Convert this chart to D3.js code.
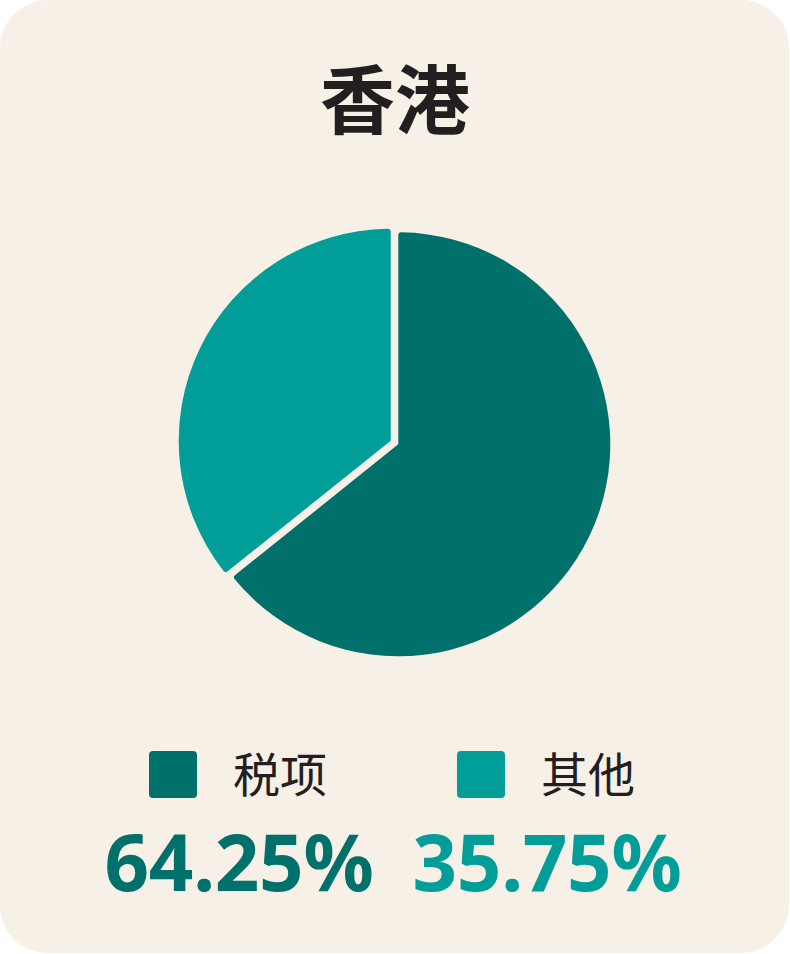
<!DOCTYPE html>
<html>
<head>
<meta charset="utf-8">
<script src="https://cdn.jsdelivr.net/npm/d3@7"></script>
<style>
html,body{margin:0;padding:0;background:#ffffff;}
svg{display:block;}
</style>
</head>
<body>
<svg id="chart" width="790" height="954"></svg>
<script>
const title = "香港";
const categories = ["税项", "其他"];
const values = [64.25, 35.75];
const valueLabels = ["64.25%", "35.75%"];
const colors = ["#00706a", "#009d99"];

const W = 790, H = 954;
const svg = d3.select("#chart");
const fontCJK = "'Noto Sans CJK SC', 'Noto Sans', sans-serif";

svg.append("rect")
  .attr("x", 0).attr("y", 0)
  .attr("width", 789).attr("height", 953)
  .attr("rx", 48).attr("ry", 48)
  .attr("fill", "#f6f0e7");

svg.append("text")
  .attr("x", 395).attr("y", 128)
  .attr("text-anchor", "middle")
  .attr("font-family", fontCJK)
  .attr("font-weight", 700)
  .attr("font-size", 75)
  .attr("fill", "#231f20")
  .text(title);

const cx = 394.5, cy = 442.5, r = 212, offset = 4.2;
const pie = d3.pie().sort(null).value(d => d).startAngle(0).endAngle(2 * Math.PI);
const arc = d3.arc().innerRadius(0).outerRadius(r).cornerRadius(3);
const arcs = pie(values);

const g = svg.append("g").attr("transform", `translate(${cx},${cy})`);
g.selectAll("path").data(arcs).join("path")
  .attr("d", arc)
  .attr("fill", (d, i) => colors[i])
  .attr("transform", d => {
    const a = (d.startAngle + d.endAngle) / 2;
    return `translate(${Math.sin(a) * offset},${-Math.cos(a) * offset})`;
  });

// legend columns
const colX = d3.scalePoint().domain(categories).range([239, 547]);
const leg = svg.append("g").selectAll("g").data(categories).join("g")
  .attr("transform", d => `translate(${colX(d)},0)`);

leg.append("rect")
  .attr("x", -90).attr("y", 751)
  .attr("width", 48).attr("height", 47)
  .attr("rx", 4)
  .attr("fill", (d, i) => colors[i]);

leg.append("text")
  .attr("x", -6).attr("y", 792)
  .attr("font-family", fontCJK)
  .attr("font-size", 47)
  .attr("font-weight", 400)
  .attr("fill", "#231f20")
  .text(d => d);

leg.append("text")
  .attr("x", 0).attr("y", 891)
  .attr("text-anchor", "middle")
  .attr("font-family", "'Noto Sans', 'Noto Sans CJK SC', sans-serif")
  .attr("font-size", 78)
  .attr("font-weight", 700)
  .attr("letter-spacing", -0.3)
  .attr("fill", (d, i) => colors[i])
  .text((d, i) => valueLabels[i]);
</script>
</body>
</html>
